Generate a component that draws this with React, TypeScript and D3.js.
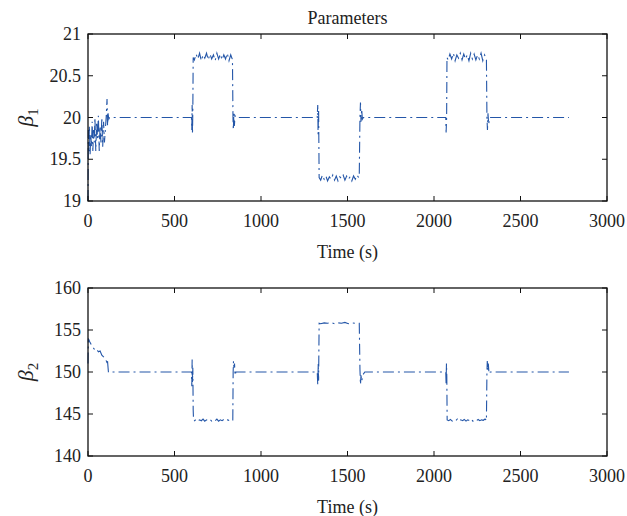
import React from "react";
import * as d3 from "d3";

const xTicks = [0, 500, 1000, 1500, 2000, 2500, 3000];
const beta1Ticks = [19, 19.5, 20, 20.5, 21];
const beta1TickLabels = ["19", "19.5", "20", "20.5", "21"];
const beta2Ticks = [140, 145, 150, 155, 160];
const beta2TickLabels = ["140", "145", "150", "155", "160"];

// Beta 1 series
const beta1Time = [
  0, 2, 5, 8, 12, 16, 20, 24, 28, 32, 36, 40, 45, 50, 55, 60, 65, 70, 75, 80, 85, 90, 95, 100, 105, 110, 113, 116, 120, 125,
  598, 600, 602, 604, 606, 608,
  615, 625, 635, 645, 655, 665, 675, 685, 695, 705, 715, 725, 735, 745, 755, 765, 775, 785, 795, 805, 815, 825, 832,
  835, 838, 840, 843, 846, 850, 855,
  1325, 1328, 1330, 1333, 1336,
  1345, 1355, 1365, 1375, 1385, 1395, 1405, 1415, 1425, 1435, 1445, 1455, 1465, 1475, 1485, 1495, 1505, 1515, 1525, 1535, 1545, 1555, 1565,
  1568, 1572, 1575, 1578, 1582, 1586, 1592,
  2068, 2070, 2073, 2075,
  2082, 2092, 2102, 2112, 2122, 2132, 2142, 2152, 2162, 2172, 2182, 2192, 2202, 2212, 2222, 2232, 2242, 2252, 2262, 2272, 2282, 2292, 2300,
  2303, 2306, 2309, 2312, 2316, 2322, 2780,
];
const beta1Values = [
  19.0, 19.85, 19.6, 19.9, 19.55, 19.8, 19.65, 19.95, 19.6, 19.85, 19.7, 20.0, 19.6, 19.95, 19.75, 20.02, 19.6, 19.9, 19.7, 20.0, 19.65, 19.95, 19.7, 19.85, 20.0, 20.22, 19.9, 20.05, 19.98, 20.0,
  20.0, 19.85, 20.15, 19.8, 20.1, 20.72,
  20.69, 20.76, 20.7, 20.77, 20.68, 20.75, 20.71, 20.77, 20.69, 20.76, 20.7, 20.75, 20.68, 20.77, 20.7, 20.76, 20.69, 20.75, 20.7, 20.77, 20.68, 20.75, 20.71,
  20.7, 20.0, 19.85, 20.05, 19.9, 20.02, 20.0,
  20.0, 20.15, 19.8, 20.1, 19.28,
  19.25, 19.31, 19.26, 19.3, 19.24, 19.29, 19.26, 19.31, 19.25, 19.3, 19.24, 19.29, 19.27, 19.31, 19.25, 19.3, 19.26, 19.29, 19.24, 19.3, 19.26, 19.31, 19.28,
  19.3, 20.0, 20.18, 19.95, 20.1, 19.98, 20.0,
  20.0, 19.82, 20.0, 20.72,
  20.69, 20.76, 20.7, 20.77, 20.68, 20.75, 20.71, 20.77, 20.69, 20.76, 20.7, 20.75, 20.68, 20.77, 20.7, 20.76, 20.69, 20.75, 20.7, 20.77, 20.68, 20.75, 20.71,
  20.7, 20.0, 19.85, 20.05, 19.92, 20.0, 20.0,
];

// Beta 2 series
const beta2Time = [
  0, 2, 10, 20, 30, 40, 50, 60, 70, 80, 90, 100, 108, 112, 118, 125,
  598, 600, 602, 604, 606, 608, 610,
  615, 625, 635, 645, 655, 665, 675, 685, 695, 705, 715, 725, 735, 745, 755, 765, 775, 785, 795, 805, 815, 825, 835,
  837, 839, 841, 844, 847, 850, 855,
  1325, 1328, 1331, 1333, 1336,
  1345, 1365, 1385, 1405, 1425, 1445, 1465, 1485, 1505, 1525, 1545, 1565,
  1568, 1572, 1575, 1578, 1582, 1590, 1600,
  2068, 2070, 2072, 2074, 2076,
  2085, 2095, 2105, 2115, 2125, 2135, 2145, 2155, 2165, 2175, 2185, 2195, 2205, 2215, 2225, 2235, 2245, 2255, 2265, 2275, 2285, 2295, 2300,
  2303, 2306, 2308, 2311, 2314, 2318, 2325, 2780,
];
const beta2Values = [
  151, 154, 153.6, 153.2, 152.9, 152.6, 152.7, 152.4, 152.5, 152.0, 151.8, 151.6, 151.2, 151.5, 150.0, 150.0,
  150, 148.3, 151.5, 148.8, 150.5, 145.5, 144.3,
  144.2, 144.35, 144.15, 144.3, 144.2, 144.4, 144.15, 144.3, 144.2, 144.35, 144.15, 144.3, 144.2, 144.4, 144.15, 144.3, 144.2, 144.35, 144.2, 144.3, 144.25, 144.4, 144.3,
  144.3, 150, 151.3, 150.5, 151, 149.6, 150,
  150, 148.5, 151, 149, 155.8,
  155.75, 155.85, 155.8, 155.9, 155.75, 155.85, 155.8, 155.9, 155.75, 155.85, 155.8, 155.8,
  155.8, 150.3, 148.5, 149.6, 148.9, 149.7, 150,
  150, 148.6, 151, 149.5, 144.3,
  144.2, 144.35, 144.15, 144.3, 144.2, 144.4, 144.15, 144.3, 144.2, 144.35, 144.15, 144.3, 144.2, 144.4, 144.15, 144.3, 144.2, 144.35, 144.2, 144.3, 144.25, 144.4, 144.3,
  144.2, 150, 151.3, 150.2, 151, 149.8, 150, 150,
];

const W = 627;
const H = 516;
const FONT = "'Liberation Serif', 'DejaVu Serif', serif";
const LINE_COLOR = "#2456a8";

type PanelProps = {
  top: number;
  bottom: number;
  time: number[];
  values: number[];
  yTicks: number[];
  yTickLabels: string[];
  yDomain: [number, number];
  sub: string;
  title?: string;
};

function Panel({ top, bottom, time, values, yTicks, yTickLabels, yDomain, sub, title }: PanelProps) {
  const left = 88;
  const right = 607;
  const x = d3.scaleLinear().domain([0, 3000]).range([left, right]);
  const y = d3.scaleLinear().domain(yDomain).range([bottom, top]);
  const n = Math.min(time.length, values.length);
  const pts = time.slice(0, n).map((t, i) => [t, values[i]] as [number, number]);
  const line = d3
    .line<[number, number]>()
    .x((d) => x(d[0]))
    .y((d) => y(d[1]));
  const tl = 5;
  return (
    <g>
      {title && (
        <text x={(left + right) / 2} y={top - 10} textAnchor="middle" fontSize={18} fontFamily={FONT} fill="#222">
          {title}
        </text>
      )}
      <path d={line(pts) || ""} fill="none" stroke={LINE_COLOR} strokeWidth={1.1} strokeDasharray="11,4,2,4" />
      <rect x={left} y={top} width={right - left} height={bottom - top} fill="none" stroke="#111" strokeWidth={1.3} />
      {xTicks.map((t) => (
        <g key={"x" + t}>
          <line x1={x(t)} x2={x(t)} y1={bottom} y2={bottom - tl} stroke="#111" strokeWidth={1} />
          <line x1={x(t)} x2={x(t)} y1={top} y2={top + tl} stroke="#111" strokeWidth={1} />
          <text x={x(t)} y={bottom + 26} textAnchor="middle" fontSize={18} fontFamily={FONT} fill="#222">
            {t}
          </text>
        </g>
      ))}
      {yTicks.map((t, i) => (
        <g key={"y" + t}>
          <line x1={left} x2={left + tl} y1={y(t)} y2={y(t)} stroke="#111" strokeWidth={1} />
          <line x1={right} x2={right - tl} y1={y(t)} y2={y(t)} stroke="#111" strokeWidth={1} />
          <text x={left - 7} y={y(t) + 6} textAnchor="end" fontSize={18} fontFamily={FONT} fill="#222">
            {yTickLabels[i]}
          </text>
        </g>
      ))}
      <text x={(left + right) / 2} y={bottom + 57} textAnchor="middle" fontSize={18} fontFamily={FONT} fill="#222">
        Time (s)
      </text>
      <text
        transform={`translate(33, ${(top + bottom) / 2}) rotate(-90)`}
        textAnchor="middle"
        fontSize={22}
        fontFamily={FONT}
        fill="#222"
      >
        <tspan fontStyle="italic">β</tspan>
        <tspan fontSize={15} dy={5}>
          {sub}
        </tspan>
      </text>
    </g>
  );
}

export default function App() {
  return (
    <svg width={W} height={H} style={{ display: "block", position: "absolute", left: 0, top: 0, background: "#fff" }}>
      <rect width={W} height={H} fill="#fff" />
      <Panel
        top={34}
        bottom={201}
        time={beta1Time}
        values={beta1Values}
        yTicks={beta1Ticks}
        yTickLabels={beta1TickLabels}
        yDomain={[19, 21]}
        sub="1"
        title="Parameters"
      />
      <Panel
        top={288}
        bottom={456}
        time={beta2Time}
        values={beta2Values}
        yTicks={beta2Ticks}
        yTickLabels={beta2TickLabels}
        yDomain={[140, 160]}
        sub="2"
      />
    </svg>
  );
}
